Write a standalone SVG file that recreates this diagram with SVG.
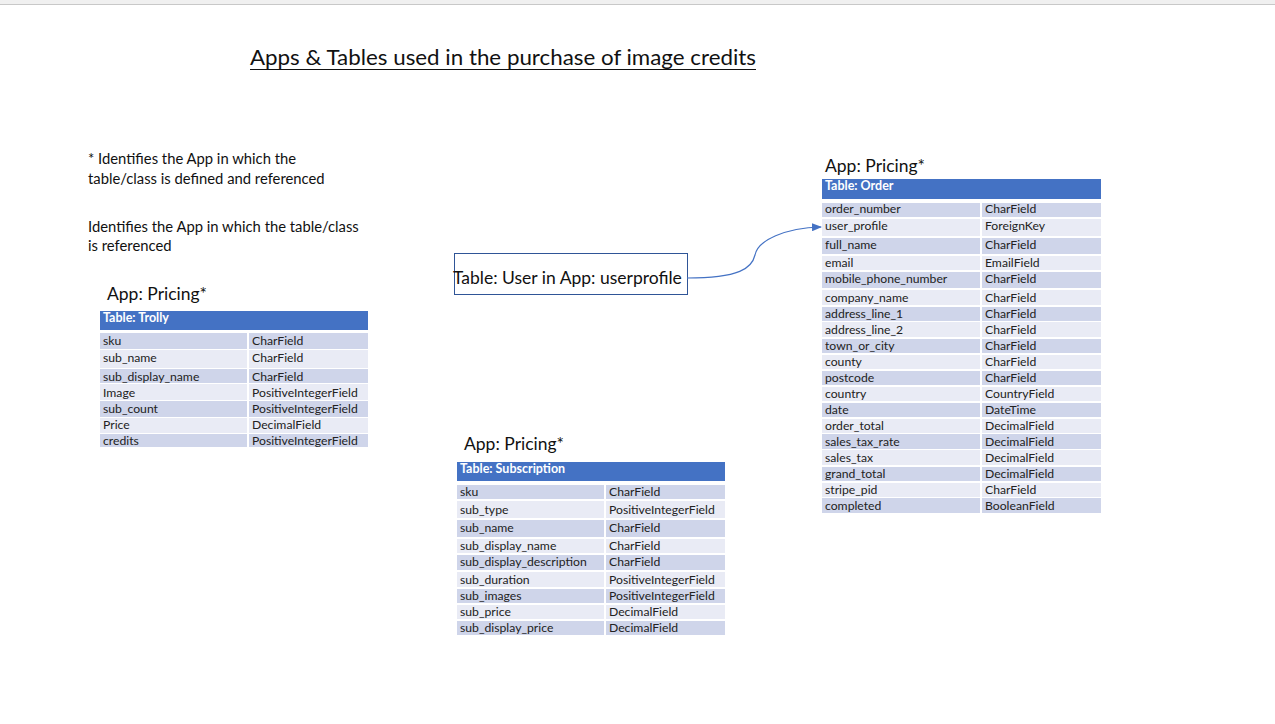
<svg xmlns="http://www.w3.org/2000/svg" width="1275" height="724" viewBox="0 0 1275 724">
<defs>
<style>
text{font-family:Lato,"Open Sans","Liberation Sans",sans-serif;fill:#111}
.t{font-size:12.2px;fill:#222}
.h{font-size:12.5px;font-weight:bold;fill:#fff}
.app{font-size:17.5px}
.note{font-size:14.8px}
.dk{fill:#CFD5EA}
.lt{fill:#E9EBF5}
.hd{fill:#4472C4}
</style>
<marker id="arr" markerWidth="10" markerHeight="8" refX="9" refY="4" orient="auto" markerUnits="userSpaceOnUse">
<path d="M0,0 L10,4 L0,8 z" fill="#4472C4"/>
</marker>
</defs>
<rect x="0" y="0" width="1275" height="724" fill="#fff"/>
<rect x="0" y="0" width="1275" height="4" fill="#f0f0f0"/>
<line x1="0" y1="4.5" x2="1275" y2="4.5" stroke="#c8c8c8" stroke-width="1"/>

<g id="title">
<text x="250" y="65" style="font-size:21px" textLength="506" lengthAdjust="spacingAndGlyphs">Apps &amp; Tables used in the purchase of image credits</text>
<line x1="250" y1="69.5" x2="756" y2="69.5" stroke="#111" stroke-width="1.2"/>
</g>

<g id="notes">
<text class="note" x="88" y="164">* Identifies the App in which the</text>
<text class="note" x="88" y="184">table/class is defined and referenced</text>
<text class="note" x="88" y="232">Identifies the App in which the table/class</text>
<text class="note" x="88" y="251">is referenced</text>
</g>

<g id="trolly">
<text class="app" x="107" y="300">App: Pricing*</text>
<rect class="hd" x="100" y="311" width="268" height="19"/>
<text class="h" x="103" y="322">Table: Trolly</text>
<rect class="dk" x="100" y="333" width="147" height="16"/><rect class="dk" x="249" y="333" width="119" height="16"/>
<text class="t" x="103" y="345">sku</text><text class="t" x="252" y="345">CharField</text>
<rect class="lt" x="100" y="350" width="147" height="18"/><rect class="lt" x="249" y="350" width="119" height="18"/>
<text class="t" x="103" y="362">sub_name</text><text class="t" x="252" y="362">CharField</text>
<rect class="dk" x="100" y="369" width="147" height="14"/><rect class="dk" x="249" y="369" width="119" height="14"/>
<text class="t" x="103" y="381">sub_display_name</text><text class="t" x="252" y="381">CharField</text>
<rect class="lt" x="100" y="384" width="147" height="16"/><rect class="lt" x="249" y="384" width="119" height="16"/>
<text class="t" x="103" y="397">Image</text><text class="t" x="252" y="397">PositiveIntegerField</text>
<rect class="dk" x="100" y="401" width="147" height="16"/><rect class="dk" x="249" y="401" width="119" height="16"/>
<text class="t" x="103" y="413">sub_count</text><text class="t" x="252" y="413">PositiveIntegerField</text>
<rect class="lt" x="100" y="418" width="147" height="15"/><rect class="lt" x="249" y="418" width="119" height="15"/>
<text class="t" x="103" y="429">Price</text><text class="t" x="252" y="429">DecimalField</text>
<rect class="dk" x="100" y="434" width="147" height="13"/><rect class="dk" x="249" y="434" width="119" height="13"/>
<text class="t" x="103" y="445">credits</text><text class="t" x="252" y="445">PositiveIntegerField</text>
</g>

<g id="user">
<rect x="454.5" y="253.5" width="233" height="41" fill="#fff" stroke="#2F5597" stroke-width="1"/>
<text x="453" y="284" style="font-size:17.5px">Table: User in App: userprofile</text>
</g>

<g id="order">
<text class="app" x="825" y="172">App: Pricing*</text>
<rect class="hd" x="822" y="179" width="279" height="20"/>
<text class="h" x="825" y="190">Table: Order</text>
<rect class="dk" x="822" y="203" width="158" height="14"/><rect class="dk" x="982" y="203" width="119" height="14"/>
<text class="t" x="825" y="213">order_number</text><text class="t" x="985" y="213">CharField</text>
<rect class="lt" x="822" y="219" width="158" height="17"/><rect class="lt" x="982" y="219" width="119" height="17"/>
<text class="t" x="825" y="230">user_profile</text><text class="t" x="985" y="230">ForeignKey</text>
<rect class="dk" x="822" y="238" width="158" height="16"/><rect class="dk" x="982" y="238" width="119" height="16"/>
<text class="t" x="825" y="249">full_name</text><text class="t" x="985" y="249">CharField</text>
<rect class="lt" x="822" y="256" width="158" height="14"/><rect class="lt" x="982" y="256" width="119" height="14"/>
<text class="t" x="825" y="267">email</text><text class="t" x="985" y="267">EmailField</text>
<rect class="dk" x="822" y="272" width="158" height="16"/><rect class="dk" x="982" y="272" width="119" height="16"/>
<text class="t" x="825" y="283">mobile_phone_number</text><text class="t" x="985" y="283">CharField</text>
<rect class="lt" x="822" y="290" width="158" height="15"/><rect class="lt" x="982" y="290" width="119" height="15"/>
<text class="t" x="825" y="302">company_name</text><text class="t" x="985" y="302">CharField</text>
<rect class="dk" x="822" y="307" width="158" height="14"/><rect class="dk" x="982" y="307" width="119" height="14"/>
<text class="t" x="825" y="318">address_line_1</text><text class="t" x="985" y="318">CharField</text>
<rect class="lt" x="822" y="322" width="158" height="15"/><rect class="lt" x="982" y="322" width="119" height="15"/>
<text class="t" x="825" y="334">address_line_2</text><text class="t" x="985" y="334">CharField</text>
<rect class="dk" x="822" y="339" width="158" height="14"/><rect class="dk" x="982" y="339" width="119" height="14"/>
<text class="t" x="825" y="350">town_or_city</text><text class="t" x="985" y="350">CharField</text>
<rect class="lt" x="822" y="355" width="158" height="14"/><rect class="lt" x="982" y="355" width="119" height="14"/>
<text class="t" x="825" y="366">county</text><text class="t" x="985" y="366">CharField</text>
<rect class="dk" x="822" y="371" width="158" height="14"/><rect class="dk" x="982" y="371" width="119" height="14"/>
<text class="t" x="825" y="382">postcode</text><text class="t" x="985" y="382">CharField</text>
<rect class="lt" x="822" y="387" width="158" height="14"/><rect class="lt" x="982" y="387" width="119" height="14"/>
<text class="t" x="825" y="398">country</text><text class="t" x="985" y="398">CountryField</text>
<rect class="dk" x="822" y="403" width="158" height="14"/><rect class="dk" x="982" y="403" width="119" height="14"/>
<text class="t" x="825" y="414">date</text><text class="t" x="985" y="414">DateTime</text>
<rect class="lt" x="822" y="419" width="158" height="14"/><rect class="lt" x="982" y="419" width="119" height="14"/>
<text class="t" x="825" y="430">order_total</text><text class="t" x="985" y="430">DecimalField</text>
<rect class="dk" x="822" y="434" width="158" height="15"/><rect class="dk" x="982" y="434" width="119" height="15"/>
<text class="t" x="825" y="446">sales_tax_rate</text><text class="t" x="985" y="446">DecimalField</text>
<rect class="lt" x="822" y="450" width="158" height="15"/><rect class="lt" x="982" y="450" width="119" height="15"/>
<text class="t" x="825" y="462">sales_tax</text><text class="t" x="985" y="462">DecimalField</text>
<rect class="dk" x="822" y="467" width="158" height="14"/><rect class="dk" x="982" y="467" width="119" height="14"/>
<text class="t" x="825" y="478">grand_total</text><text class="t" x="985" y="478">DecimalField</text>
<rect class="lt" x="822" y="483" width="158" height="14"/><rect class="lt" x="982" y="483" width="119" height="14"/>
<text class="t" x="825" y="494">stripe_pid</text><text class="t" x="985" y="494">CharField</text>
<rect class="dk" x="822" y="498" width="158" height="15"/><rect class="dk" x="982" y="498" width="119" height="15"/>
<text class="t" x="825" y="510">completed</text><text class="t" x="985" y="510">BooleanField</text>
</g>

<g id="subscription">
<text class="app" x="464" y="450">App: Pricing*</text>
<rect class="hd" x="457" y="462" width="268" height="19"/>
<text class="h" x="460" y="473">Table: Subscription</text>
<rect class="dk" x="457" y="485" width="147" height="14"/><rect class="dk" x="606" y="485" width="119" height="14"/>
<text class="t" x="460" y="496">sku</text><text class="t" x="609" y="496">CharField</text>
<rect class="lt" x="457" y="501" width="147" height="17"/><rect class="lt" x="606" y="501" width="119" height="17"/>
<text class="t" x="460" y="514">sub_type</text><text class="t" x="609" y="514">PositiveIntegerField</text>
<rect class="dk" x="457" y="520" width="147" height="17"/><rect class="dk" x="606" y="520" width="119" height="17"/>
<text class="t" x="460" y="532">sub_name</text><text class="t" x="609" y="532">CharField</text>
<rect class="lt" x="457" y="539" width="147" height="14"/><rect class="lt" x="606" y="539" width="119" height="14"/>
<text class="t" x="460" y="550">sub_display_name</text><text class="t" x="609" y="550">CharField</text>
<rect class="dk" x="457" y="555" width="147" height="15"/><rect class="dk" x="606" y="555" width="119" height="15"/>
<text class="t" x="460" y="566">sub_display_description</text><text class="t" x="609" y="566">CharField</text>
<rect class="lt" x="457" y="572" width="147" height="15"/><rect class="lt" x="606" y="572" width="119" height="15"/>
<text class="t" x="460" y="584">sub_duration</text><text class="t" x="609" y="584">PositiveIntegerField</text>
<rect class="dk" x="457" y="589" width="147" height="14"/><rect class="dk" x="606" y="589" width="119" height="14"/>
<text class="t" x="460" y="600">sub_images</text><text class="t" x="609" y="600">PositiveIntegerField</text>
<rect class="lt" x="457" y="605" width="147" height="14"/><rect class="lt" x="606" y="605" width="119" height="14"/>
<text class="t" x="460" y="616">sub_price</text><text class="t" x="609" y="616">DecimalField</text>
<rect class="dk" x="457" y="621" width="147" height="14"/><rect class="dk" x="606" y="621" width="119" height="14"/>
<text class="t" x="460" y="632">sub_display_price</text><text class="t" x="609" y="632">DecimalField</text>
</g>

<g id="connectors">
<path d="M687,278 C740,278 752,268 755,255 C758,240 785,228 821,227" fill="none" stroke="#4472C4" stroke-width="1.2" marker-end="url(#arr)"/>
</g>
</svg>
